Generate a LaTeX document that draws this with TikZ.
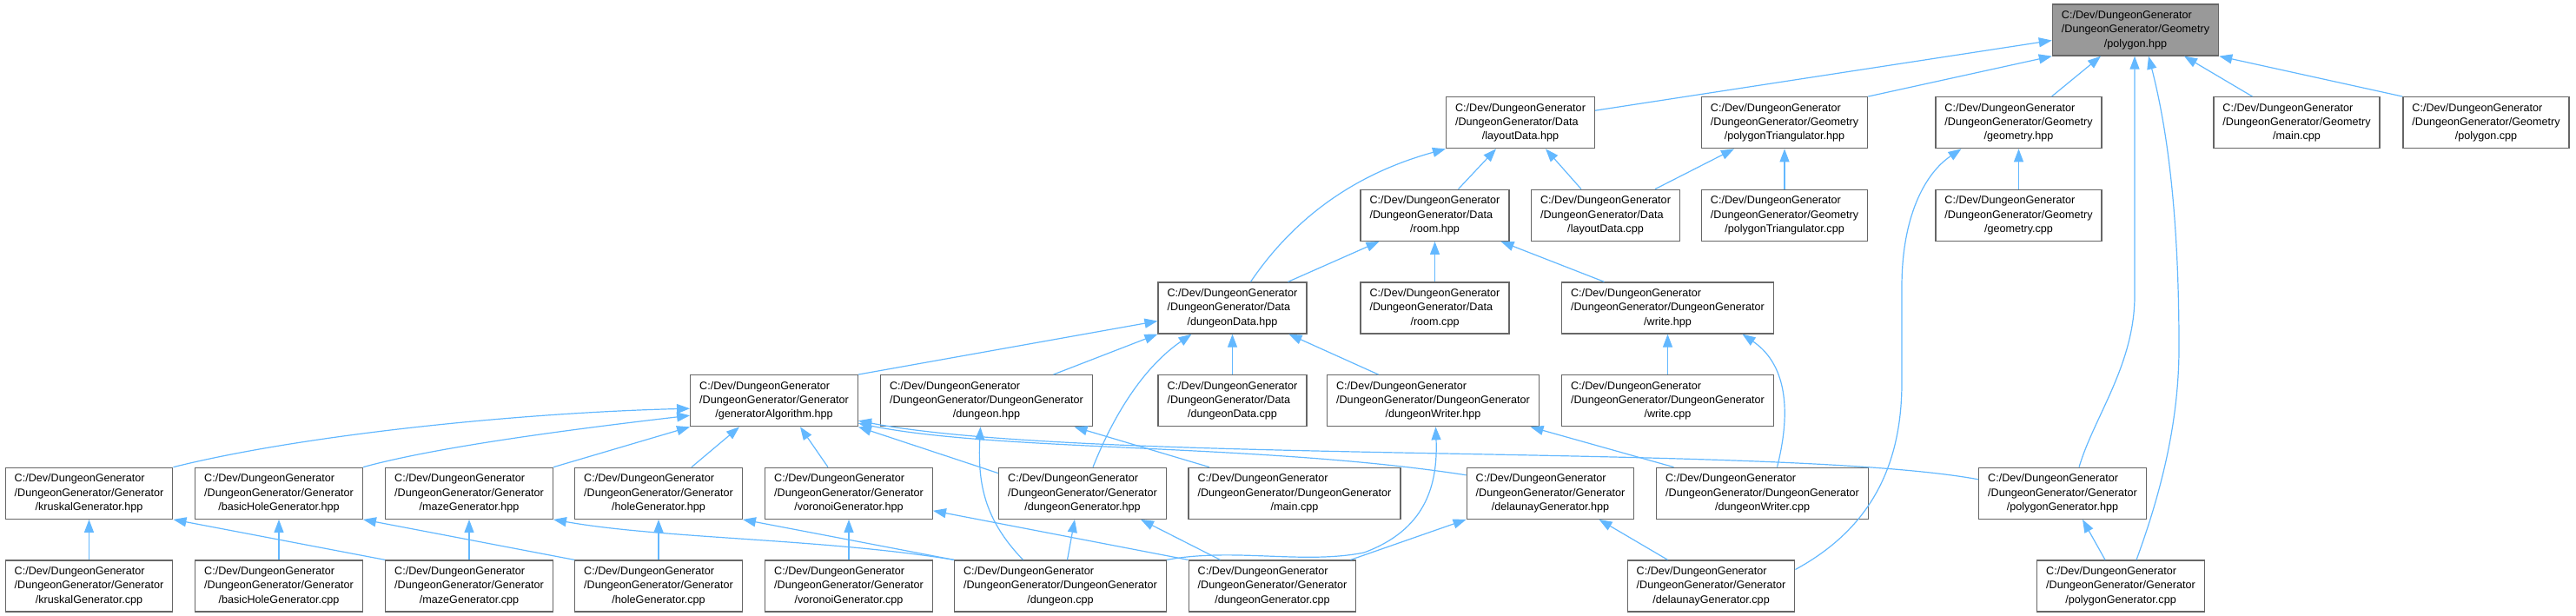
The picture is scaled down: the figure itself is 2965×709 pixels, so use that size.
\documentclass[tikz,border=0pt]{standalone}
\usepackage{fontspec}
\setmainfont{Liberation Sans}
\usepackage{tikz}
\usetikzlibrary{arrows.meta}
\definecolor{cedge}{HTML}{63B8FF}
\definecolor{cbox}{HTML}{666666}
\definecolor{croot}{HTML}{999999}
\newcommand{\dgfile}[2]{\begin{tabular}{@{}l@{}}C:/Dev/DungeonGenerator\\/DungeonGenerator/#1\\\multicolumn{1}{@{}c@{}}{/#2}\end{tabular}}

\begin{document}
\begin{tikzpicture}[x=1pt, y=-1pt,
    file/.style={draw=cbox, line width=1.3pt, fill=white, minimum height=59pt,
                 inner xsep=10.5pt, inner ysep=0pt, font=\fontsize{12.6}{16.3}\selectfont},
    root/.style={file, fill=croot},
    inc/.style={cedge, line width=1.2pt, -{Triangle[length=15pt,width=11pt]}}]
  \useasboundingbox (0,0) rectangle (2965,709);

  % row 1
  \node[root] (polyhpp) at (2458,34.5) {\dgfile{Geometry}{polygon.hpp}};
  % row 2
  \node[file] (layouthpp)  at (1750,141.2)   {\dgfile{Data}{layoutData.hpp}};
  \node[file] (polytrihpp) at (2054,141.2)   {\dgfile{Geometry}{polygonTriangulator.hpp}};
  \node[file] (geomhpp)    at (2323.5,141.2) {\dgfile{Geometry}{geometry.hpp}};
  \node[file] (geommain)   at (2643.5,141.2) {\dgfile{Geometry}{main.cpp}};
  \node[file] (polycpp)    at (2861.5,141.2) {\dgfile{Geometry}{polygon.cpp}};
  % row 3
  \node[file] (roomhpp)    at (1651.5,247.8) {\dgfile{Data}{room.hpp}};
  \node[file] (layoutcpp)  at (1848,247.8)   {\dgfile{Data}{layoutData.cpp}};
  \node[file] (polytricpp) at (2054,247.8)   {\dgfile{Geometry}{polygonTriangulator.cpp}};
  \node[file] (geomcpp)    at (2323.5,247.8) {\dgfile{Geometry}{geometry.cpp}};
  % row 4
  \node[file] (datahpp)  at (1418.5,354.5) {\dgfile{Data}{dungeonData.hpp}};
  \node[file] (roomcpp)  at (1651.5,354.5) {\dgfile{Data}{room.cpp}};
  \node[file] (writehpp) at (1919.5,354.5) {\dgfile{DungeonGenerator}{write.hpp}};
  % row 5
  \node[file] (genalghpp)  at (891,461.2)    {\dgfile{Generator}{generatorAlgorithm.hpp}};
  \node[file] (dungeonhpp) at (1135.5,461.2) {\dgfile{DungeonGenerator}{dungeon.hpp}};
  \node[file] (datacpp)    at (1418.5,461.2) {\dgfile{Data}{dungeonData.cpp}};
  \node[file] (writerhpp)  at (1649.5,461.2) {\dgfile{DungeonGenerator}{dungeonWriter.hpp}};
  \node[file] (writecpp)   at (1919.5,461.2) {\dgfile{DungeonGenerator}{write.cpp}};
  % row 6
  \node[file] (kruskalhpp)  at (102.5,567.8)  {\dgfile{Generator}{kruskalGenerator.hpp}};
  \node[file] (basichpp)    at (321,567.8)    {\dgfile{Generator}{basicHoleGenerator.hpp}};
  \node[file] (mazehpp)     at (540,567.8)    {\dgfile{Generator}{mazeGenerator.hpp}};
  \node[file] (holehpp)     at (758,567.8)    {\dgfile{Generator}{holeGenerator.hpp}};
  \node[file] (voronoihpp)  at (977,567.8)    {\dgfile{Generator}{voronoiGenerator.hpp}};
  \node[file] (dgenhpp)     at (1246,567.8)   {\dgfile{Generator}{dungeonGenerator.hpp}};
  \node[file] (maincpp)     at (1490,567.8)   {\dgfile{DungeonGenerator}{main.cpp}};
  \node[file] (delaunayhpp) at (1784.5,567.8) {\dgfile{Generator}{delaunayGenerator.hpp}};
  \node[file] (writercpp)   at (2028.5,567.8) {\dgfile{DungeonGenerator}{dungeonWriter.cpp}};
  \node[file] (polygenhpp)  at (2374,567.8)   {\dgfile{Generator}{polygonGenerator.hpp}};
  % row 7
  \node[file] (kruskalcpp)  at (102.5,674.5)  {\dgfile{Generator}{kruskalGenerator.cpp}};
  \node[file] (basiccpp)    at (321,674.5)    {\dgfile{Generator}{basicHoleGenerator.cpp}};
  \node[file] (mazecpp)     at (540,674.5)    {\dgfile{Generator}{mazeGenerator.cpp}};
  \node[file] (holecpp)     at (758,674.5)    {\dgfile{Generator}{holeGenerator.cpp}};
  \node[file] (voronoicpp)  at (977,674.5)    {\dgfile{Generator}{voronoiGenerator.cpp}};
  \node[file] (dungeoncpp)  at (1220.5,674.5) {\dgfile{DungeonGenerator}{dungeon.cpp}};
  \node[file] (dgencpp)     at (1464.5,674.5) {\dgfile{Generator}{dungeonGenerator.cpp}};
  \node[file] (delaunaycpp) at (1969.5,674.5) {\dgfile{Generator}{delaunayGenerator.cpp}};
  \node[file] (polygencpp)  at (2441,674.5)   {\dgfile{Generator}{polygonGenerator.cpp}};

  % includes of polygon.hpp
  \draw[inc] ([yshift=14pt]layouthpp.east) -- ([yshift=-12pt]polyhpp.west);
  \draw[inc] (polytrihpp.north east) -- (polyhpp.south west);
  \draw[inc] ([xshift=38pt]geomhpp.north) -- ([xshift=-40pt]polyhpp.south);
  \draw[inc] ([xshift=-51pt]geommain.north) -- ([xshift=56pt]polyhpp.south);
  \draw[inc] (polycpp.north west) -- (polyhpp.south east);
  \draw[inc] ([xshift=19pt]polygenhpp.north) .. controls (2410,480) and (2457,420)
        .. (2457,340) -- ([xshift=-1pt]polyhpp.south);
  \draw[inc] ([xshift=18pt]polygencpp.north) .. controls (2490,560) and (2508,480)
        .. (2508,400) .. controls (2508,250) and (2495,150) .. ([xshift=15pt]polyhpp.south);
  % Data / Geometry
  \draw[inc] ([xshift=21pt]datahpp.north) .. controls (1490,250) and (1560,200)
        .. (layouthpp.south west);
  \draw[inc] ([xshift=27pt]roomhpp.north) -- ([xshift=-28pt]layouthpp.south);
  \draw[inc] ([xshift=-28pt]layoutcpp.north) -- ([xshift=29pt]layouthpp.south);
  \draw[inc] ([xshift=57pt]layoutcpp.north) -- ([xshift=-58pt]polytrihpp.south);
  \draw[inc] (polytricpp) -- (polytrihpp);
  \draw[inc] (geomcpp) -- (geomhpp);
  \draw[inc] ([yshift=19pt]delaunaycpp.east) .. controls (2150,610) and (2189,540)
        .. (2189,440) -- (2189,330) .. controls (2189,250) and (2215,200)
        .. ([xshift=-66pt]geomhpp.south);
  \draw[inc] ([xshift=64pt]datahpp.north) -- ([xshift=-64pt]roomhpp.south);
  \draw[inc] (roomcpp) -- (roomhpp);
  \draw[inc] ([xshift=-73pt]writehpp.north) -- ([xshift=76pt]roomhpp.south);
  % dungeonData.hpp and write.hpp
  \draw[inc] (genalghpp.north east) -- ([yshift=-15pt]datahpp.west);
  \draw[inc] ([xshift=77pt]dungeonhpp.north) -- (datahpp.south west);
  \draw[inc] (datacpp) -- (datahpp);
  \draw[inc] ([xshift=-63pt]writerhpp.north) -- ([xshift=65pt]datahpp.south);
  \draw[inc] ([xshift=12pt]dgenhpp.north) .. controls (1285,470) and (1320,420)
        .. ([xshift=-47pt]datahpp.south);
  \draw[inc] (writecpp) -- (writehpp);
  \draw[inc] ([xshift=17pt]writercpp.north) .. controls (2065,460) and (2050,415)
        .. ([xshift=86pt]writehpp.south);
  % generatorAlgorithm.hpp
  \draw[inc] (kruskalhpp.north east) .. controls (350,500) and (600,475)
        .. ([yshift=-9pt]genalghpp.west);
  \draw[inc] (basichpp.north east) .. controls (500,515) and (650,495)
        .. ([yshift=-17pt]genalghpp.west);
  \draw[inc] (mazehpp.north east) -- (genalghpp.south west);
  \draw[inc] ([xshift=38pt]holehpp.north) -- ([xshift=-40pt]genalghpp.south);
  \draw[inc] ([xshift=-24pt]voronoihpp.north) -- ([xshift=30pt]genalghpp.south);
  \draw[inc] ([yshift=-7pt]dgenhpp.north west) -- (genalghpp.south east);
  \draw[inc] ([yshift=21pt]delaunayhpp.west) .. controls (1450,510) and (1150,520)
        .. ([yshift=-26pt]genalghpp.east);
  \draw[inc] ([yshift=16pt]polygenhpp.west) .. controls (2050,510) and (1250,535)
        .. ([yshift=-23pt]genalghpp.east);
  % dungeon.hpp, dungeonWriter.hpp
  \draw[inc] ([xshift=-98pt]maincpp.north) -- ([xshift=101pt]dungeonhpp.south);
  \draw[inc] ([xshift=-43pt]dungeoncpp.north) .. controls (1135,600) and (1125,560)
        .. ([xshift=-7pt]dungeonhpp.south);
  \draw[inc] (dungeoncpp.north east) .. controls (1420,630) and (1500,650)
        .. (1570,636) .. controls (1640,610) and (1655,560) .. ([xshift=3pt]writerhpp.south);
  \draw[inc] ([xshift=-102pt]writercpp.north) -- ([xshift=112pt]writerhpp.south);
  % generator headers
  \draw[inc] ([xshift=8pt]dungeoncpp.north) -- ([xshift=-9pt]dgenhpp.south);
  \draw[inc] ([xshift=-60pt]dgencpp.north) -- ([xshift=67pt]dgenhpp.south);
  \draw[inc] (dgencpp.north west) -- ([yshift=-20pt]voronoihpp.east);
  \draw[inc] ([xshift=90pt]dgencpp.north) -- (delaunayhpp.south west);
  \draw[inc] ([xshift=-50pt]delaunaycpp.north) -- ([xshift=56pt]delaunayhpp.south);
  \draw[inc] ([xshift=-18pt]polygencpp.north) -- ([xshift=23pt]polygenhpp.south);
  \draw[inc] (kruskalcpp) -- (kruskalhpp);
  \draw[inc] (mazecpp.north west) -- (kruskalhpp.south east);
  \draw[inc] (basiccpp) -- (basichpp);
  \draw[inc] (holecpp.north west) -- (basichpp.south east);
  \draw[inc] (mazecpp) -- (mazehpp);
  \draw[inc] (dungeoncpp.north west) .. controls (950,620) and (760,620) .. (mazehpp.south east);
  \draw[inc] (holecpp) -- (holehpp);
  \draw[inc] (dungeoncpp.north west) -- (holehpp.south east);
  \draw[inc] (voronoicpp) -- (voronoihpp);
\end{tikzpicture}
\end{document}
